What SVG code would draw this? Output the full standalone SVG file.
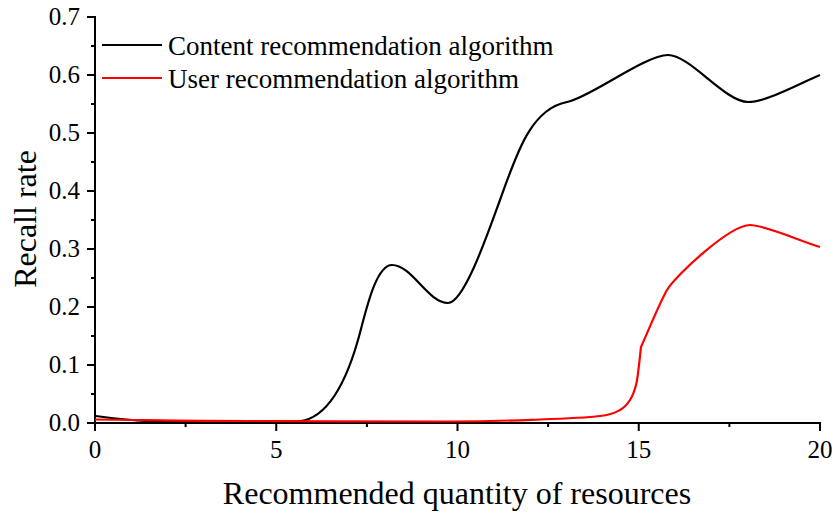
<svg xmlns="http://www.w3.org/2000/svg" width="836" height="515" viewBox="0 0 836 515">
<style>
.ax{stroke:#000;stroke-width:2;fill:none;stroke-linecap:square}
.tk{stroke:#000;stroke-width:2;fill:none}
.lbl{font-family:"Liberation Serif","Times New Roman",serif;font-size:25px;fill:#000}
.ttl{font-family:"Liberation Serif","Times New Roman",serif;font-size:32px;fill:#000}
.leg{font-family:"Liberation Serif","Times New Roman",serif;font-size:27px;fill:#000}
.cb{stroke:#000;stroke-width:2.2;fill:none;stroke-linejoin:round}
.cr{stroke:#ff0000;stroke-width:2.2;fill:none;stroke-linejoin:round}
</style>
<rect width="836" height="515" fill="#fff"/>
<g id="axes">
<path class="ax" d="M95,17 V423 H820"/>
<path class="tk" d="M95,423H87M95,365H87M95,307H87M95,249H87M95,191H87M95,133H87M95,75H87M95,17H87"/>
<path class="tk" d="M95,394H91M95,336H91M95,278H91M95,220H91M95,162H91M95,104H91M95,46H91"/>
<path class="tk" d="M95,423V431M276.25,423V431M457.5,423V431M638.75,423V431M820,423V431"/>
<path class="tk" d="M185.6,423V427M366.9,423V427M548.1,423V427M729.4,423V427"/>
</g>
<g id="ytick-labels" class="lbl" text-anchor="end">
<text x="80" y="431">0.0</text>
<text x="80" y="373">0.1</text>
<text x="80" y="315">0.2</text>
<text x="80" y="257">0.3</text>
<text x="80" y="199">0.4</text>
<text x="80" y="141">0.5</text>
<text x="80" y="83">0.6</text>
<text x="80" y="25">0.7</text>
</g>
<g id="xtick-labels" class="lbl" text-anchor="middle">
<text x="95" y="458">0</text>
<text x="276.25" y="458">5</text>
<text x="457.5" y="458">10</text>
<text x="638.75" y="458">15</text>
<text x="820" y="458">20</text>
</g>
<text class="ttl" x="457" y="504" text-anchor="middle">Recommended quantity of resources</text>
<text class="ttl" transform="translate(36,219) rotate(-90)" text-anchor="middle">Recall rate</text>
<g id="curves">
<path class="cb" d="M95,416 C120,419 140,421.7 165,421.8 L295,421.6 C330,421.6 348,375 358,340 C365,315.5 375,265 392,265 C412,265 428,303 448,303 C464,303 488,233 500,200 C516,156 530,109 567,102 C590,97.6 645,55 668,55 C690,55 725,102 748,102 C765,102 790,88 820,75"/>
<path class="cr" d="M95,419.5 C146.7,420 191,421 250,421 C309,421 402,421.75 450,421.5 C498,421.25 515,420.4 540,419.5 C565,418.6 586.7,417.6 600,416 C613.3,414.4 615,412.7 620,410 C625,407.3 627.3,404.2 630,400 C632.7,395.8 634.5,390.8 636,385 C637.5,379.2 638.2,371.3 639,365 C639.8,358.7 640.3,353 641,347 C646,336 660,302 667,290 C676,275 730,225 750,225 C765,225 800,241 820,247"/>
</g>
<g id="legend">
<line x1="102" y1="45" x2="162" y2="45" stroke="#000" stroke-width="2"/>
<text class="leg" x="168" y="55">Content recommendation algorithm</text>
<line x1="102" y1="78" x2="162" y2="78" stroke="#ff0000" stroke-width="2"/>
<text class="leg" x="168" y="88">User recommendation algorithm</text>
</g>
</svg>
